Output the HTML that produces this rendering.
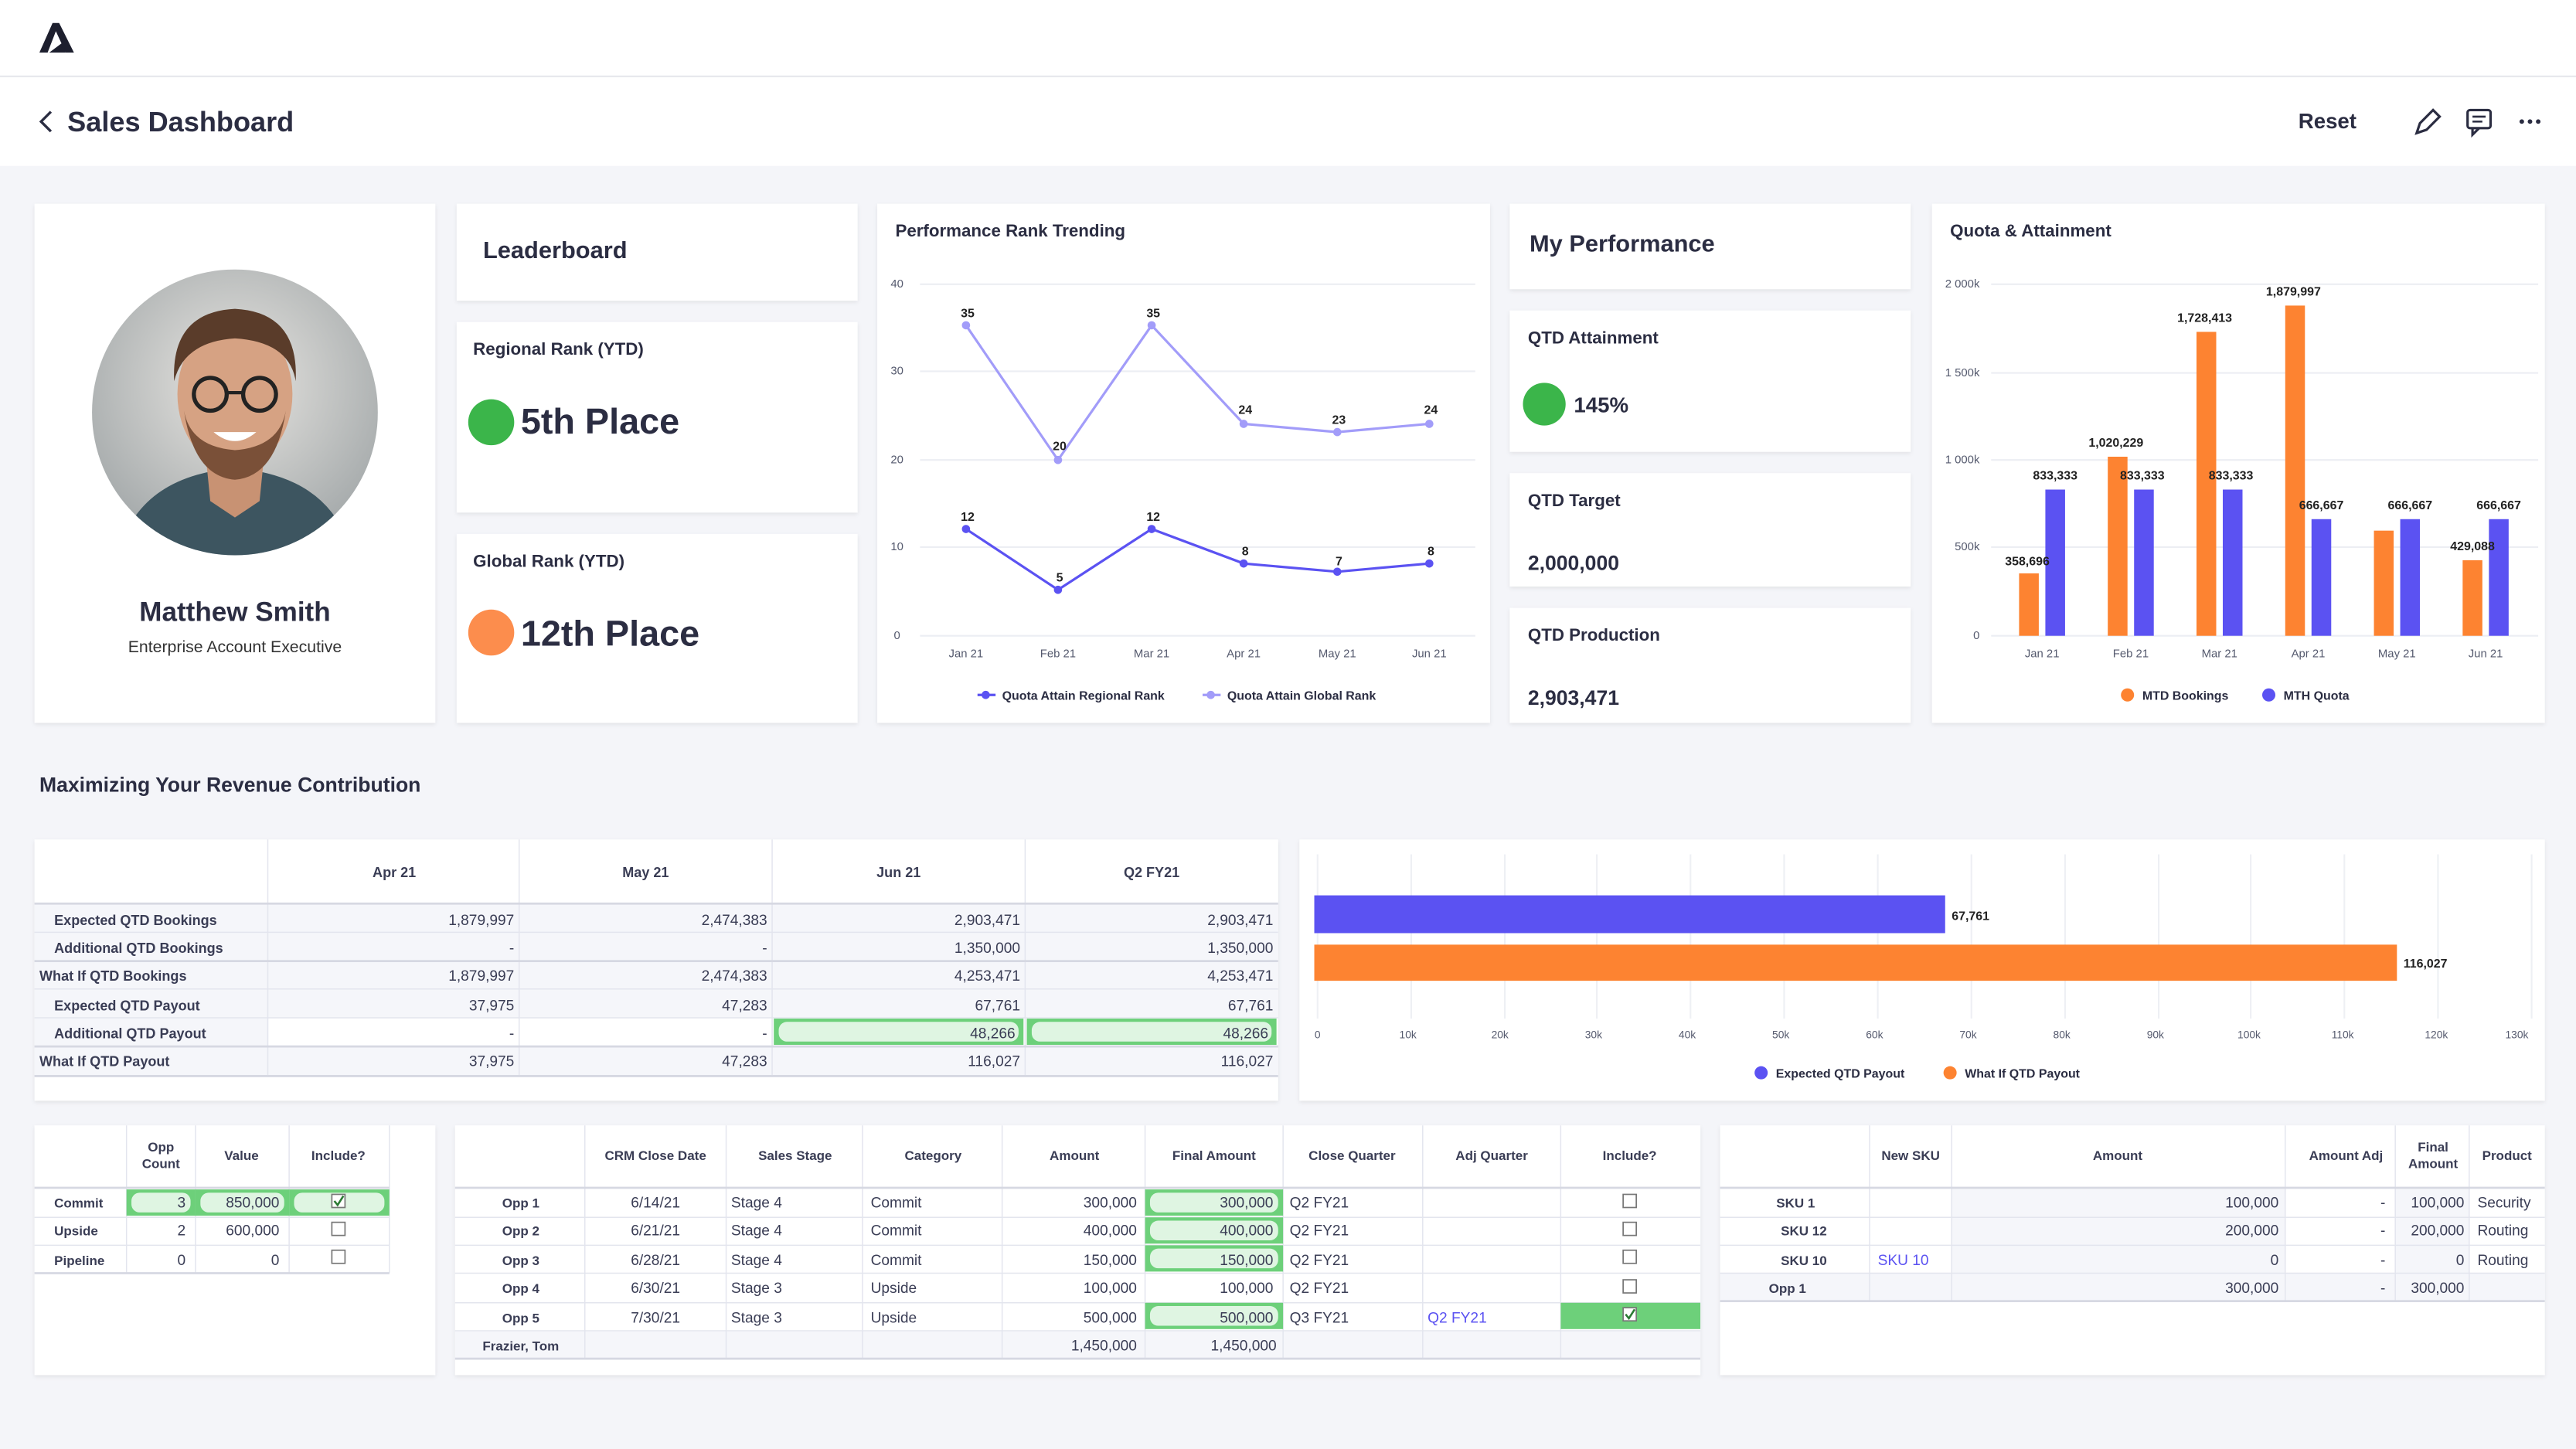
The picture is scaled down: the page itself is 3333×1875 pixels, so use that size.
<!DOCTYPE html>
<html><head><meta charset="utf-8"><style>
html,body{margin:0;padding:0;background:#f4f5f9;}
svg{display:block;font-family:"Liberation Sans",sans-serif;}
.t{fill:#2b2d42;font-weight:bold;}
.s{font-size:7px;fill:#555a6e;}
.h{font-size:8.5px;fill:#3a3d55;font-weight:bold;}
.c{font-size:9px;fill:#3a3d55;}
.cb{font-size:9px;fill:#2b2d42;font-weight:bold;}
.v{font-size:7.5px;font-weight:bold;fill:#222;}
</style></head><body>
<svg width="3333" height="1875" viewBox="0 0 1568 882" preserveAspectRatio="none" xmlns="http://www.w3.org/2000/svg">
<defs>
<filter id="sh" x="-5%" y="-5%" width="110%" height="115%"><feDropShadow dx="0" dy="1" stdDeviation="1.2" flood-color="#000" flood-opacity="0.08"/></filter>
<clipPath id="av"><circle cx="143" cy="251" r="87"/></clipPath>
<radialGradient id="bg" cx="0.5" cy="0.4" r="0.7"><stop offset="0" stop-color="#e8e6e2"/><stop offset="1" stop-color="#9aa0a2"/></radialGradient>
</defs>
<rect width="1568" height="882" fill="#f4f5f9"/>
<!-- header -->
<rect width="1568" height="101" fill="#fff"/>
<line x1="0" y1="46.5" x2="1568" y2="46.5" stroke="#e6e7ec"/>
<path d="M24 32 L32 14 L36 14 L45 32 L40 32 L34 19 L29 32 Z" fill="#1d1f2e"/>
<path d="M30 32 L38 26 L40 32 Z" fill="#1d1f2e"/>
<path d="M31 68 L25 74 L31 80" fill="none" stroke="#2b2d42" stroke-width="1.6"/>
<text x="41" y="80" font-size="17" class="t" style="font-weight:600">Sales Dashboard</text>
<text x="1399" y="78" font-size="13" fill="#2b2d42" style="font-weight:600">Reset</text>
<path d="M1471 81 L1473 75 L1481 67 L1485 71 L1477 79 Z" fill="none" stroke="#2b2d42" stroke-width="1.5"/>
<rect x="1502" y="67" width="14" height="11" rx="1.5" fill="none" stroke="#2b2d42" stroke-width="1.5"/>
<path d="M1505 78 L1505 82 L1509 78" fill="none" stroke="#2b2d42" stroke-width="1.5"/>
<line x1="1505" y1="71" x2="1513" y2="71" stroke="#2b2d42" stroke-width="1.2"/><line x1="1505" y1="74" x2="1511" y2="74" stroke="#2b2d42" stroke-width="1.2"/>
<circle cx="1535" cy="74" r="1.4" fill="#2b2d42"/><circle cx="1540" cy="74" r="1.4" fill="#2b2d42"/><circle cx="1545" cy="74" r="1.4" fill="#2b2d42"/>

<!-- cards -->
<g fill="#fff" filter="url(#sh)">
<rect x="21" y="124" width="244" height="316"/>
<rect x="278" y="124" width="244" height="59"/>
<rect x="278" y="196" width="244" height="116"/>
<rect x="278" y="325" width="244" height="115"/>
<rect x="534" y="124" width="373" height="316"/>
<rect x="919" y="124" width="244" height="52"/>
<rect x="919" y="189" width="244" height="86"/>
<rect x="919" y="288" width="244" height="69"/>
<rect x="919" y="370" width="244" height="70"/>
<rect x="1176" y="124" width="373" height="316"/>
<rect x="21" y="511" width="757" height="159"/>
<rect x="791" y="511" width="758" height="159"/>
<rect x="21" y="685" width="244" height="152"/>
<rect x="277" y="685" width="758" height="152"/>
<rect x="1047" y="685" width="502" height="152"/>
</g>

<!-- avatar -->
<g clip-path="url(#av)">
<rect x="56" y="164" width="174" height="174" fill="url(#bg)"/>
<path d="M70 345 Q80 290 143 285 Q206 290 216 345 Z" fill="#3d5560"/>
<path d="M125 275 L161 275 L158 305 L143 315 L128 305 Z" fill="#c89273"/>
<ellipse cx="143" cy="240" rx="35" ry="45" fill="#d6a283"/>
<path d="M106 232 Q104 190 143 188 Q182 190 180 232 Q176 208 143 206 Q112 208 106 232 Z" fill="#5a3c2a"/>
<path d="M112 250 Q118 290 143 292 Q168 290 174 250 Q170 272 143 274 Q116 272 112 250 Z" fill="#7a5038"/>
<circle cx="128" cy="240" r="10" fill="none" stroke="#222" stroke-width="2.5"/>
<circle cx="158" cy="240" r="10" fill="none" stroke="#222" stroke-width="2.5"/>
<line x1="138" y1="239" x2="148" y2="239" stroke="#222" stroke-width="2"/>
<path d="M130 263 Q143 274 156 263 Z" fill="#fff"/>
</g>
<text x="143" y="378" font-size="16.5" text-anchor="middle" fill="#2b2d42" style="font-weight:600">Matthew Smith</text>
<text x="143" y="397" font-size="10" text-anchor="middle" fill="#333">Enterprise Account Executive</text>

<text x="294" y="157" font-size="14.5" fill="#2b2d42" style="font-weight:600">Leaderboard</text>
<text x="288" y="216" font-size="10.5" class="t">Regional Rank (YTD)</text>
<circle cx="299" cy="257" r="14" fill="#3bb54a"/>
<text x="317" y="264" font-size="22" class="t">5th Place</text>
<text x="288" y="345" font-size="10.5" class="t">Global Rank (YTD)</text>
<circle cx="299" cy="385" r="14" fill="#fc8d4d"/>
<text x="317" y="393" font-size="22" class="t">12th Place</text>

<!-- perf rank trending -->
<text x="545" y="144" font-size="10.5" class="t">Performance Rank Trending</text>
<g stroke="#eceef3" stroke-width="1"><line x1="560" y1="173" x2="898" y2="173"/><line x1="560" y1="226" x2="898" y2="226"/><line x1="560" y1="280" x2="898" y2="280"/><line x1="560" y1="333" x2="898" y2="333"/><line x1="560" y1="387" x2="898" y2="387"/></g>
<g class="s" text-anchor="middle"><text x="546" y="175">40</text><text x="546" y="228">30</text><text x="546" y="282">20</text><text x="546" y="335">10</text><text x="546" y="389">0</text>
<text x="588" y="400">Jan 21</text><text x="644" y="400">Feb 21</text><text x="701" y="400">Mar 21</text><text x="757" y="400">Apr 21</text><text x="814" y="400">May 21</text><text x="870" y="400">Jun 21</text></g>
<polyline points="588,198 644,280 701,198 757,258 814,263 870,258" fill="none" stroke="#a29cf9" stroke-width="1.5"/>
<g fill="#a29cf9"><circle cx="588" cy="198" r="2.5"/><circle cx="644" cy="280" r="2.5"/><circle cx="701" cy="198" r="2.5"/><circle cx="757" cy="258" r="2.5"/><circle cx="814" cy="263" r="2.5"/><circle cx="870" cy="258" r="2.5"/></g>
<polyline points="588,322 644,359 701,322 757,343 814,348 870,343" fill="none" stroke="#5b52f2" stroke-width="1.5"/>
<g fill="#5b52f2"><circle cx="588" cy="322" r="2.5"/><circle cx="644" cy="359" r="2.5"/><circle cx="701" cy="322" r="2.5"/><circle cx="757" cy="343" r="2.5"/><circle cx="814" cy="348" r="2.5"/><circle cx="870" cy="343" r="2.5"/></g>
<g class="v" text-anchor="middle"><text x="589" y="193">35</text><text x="645" y="274">20</text><text x="702" y="193">35</text><text x="758" y="252">24</text><text x="815" y="258">23</text><text x="871" y="252">24</text>
<text x="589" y="317">12</text><text x="645" y="354">5</text><text x="702" y="317">12</text><text x="758" y="338">8</text><text x="815" y="344">7</text><text x="871" y="338">8</text></g>
<line x1="595" y1="423" x2="606" y2="423" stroke="#5b52f2" stroke-width="1.5"/><circle cx="600" cy="423" r="2.5" fill="#5b52f2"/>
<text x="610" y="426" font-size="7.5" class="t">Quota Attain Regional Rank</text>
<line x1="732" y1="423" x2="743" y2="423" stroke="#a29cf9" stroke-width="1.5"/><circle cx="737" cy="423" r="2.5" fill="#a29cf9"/>
<text x="747" y="426" font-size="7.5" class="t">Quota Attain Global Rank</text>

<!-- my performance -->
<text x="931" y="153" font-size="14.5" fill="#2b2d42" style="font-weight:600">My Performance</text>
<text x="930" y="209" font-size="10.5" class="t">QTD Attainment</text>
<circle cx="940" cy="246" r="13" fill="#3bb54a"/>
<text x="958" y="251" font-size="13" class="t">145%</text>
<text x="930" y="308" font-size="10.5" class="t">QTD Target</text>
<text x="930" y="347" font-size="12.5" class="t">2,000,000</text>
<text x="930" y="390" font-size="10.5" class="t">QTD Production</text>
<text x="930" y="429" font-size="12.5" class="t">2,903,471</text>

<!-- quota & attainment -->
<text x="1187" y="144" font-size="10.5" class="t">Quota &amp; Attainment</text>
<g stroke="#eceef3"><line x1="1212" y1="173" x2="1545" y2="173"/><line x1="1212" y1="227" x2="1545" y2="227"/><line x1="1212" y1="280" x2="1545" y2="280"/><line x1="1212" y1="333" x2="1545" y2="333"/><line x1="1212" y1="387" x2="1545" y2="387"/></g>
<g class="s" text-anchor="end"><text x="1205" y="175">2 000k</text><text x="1205" y="229">1 500k</text><text x="1205" y="282">1 000k</text><text x="1205" y="335">500k</text><text x="1205" y="389">0</text></g>
<g class="s" text-anchor="middle"><text x="1243" y="400">Jan 21</text><text x="1297" y="400">Feb 21</text><text x="1351" y="400">Mar 21</text><text x="1405" y="400">Apr 21</text><text x="1459" y="400">May 21</text><text x="1513" y="400">Jun 21</text></g>
<g fill="#fd8331">
<rect x="1229" y="349" width="12" height="38"/><rect x="1283" y="278" width="12" height="109"/><rect x="1337" y="202" width="12" height="185"/><rect x="1391" y="186" width="12" height="201"/><rect x="1445" y="323" width="12" height="64"/><rect x="1499" y="341" width="12" height="46"/></g>
<g fill="#5b52f2">
<rect x="1245" y="298" width="12" height="89"/><rect x="1299" y="298" width="12" height="89"/><rect x="1353" y="298" width="12" height="89"/><rect x="1407" y="316" width="12" height="71"/><rect x="1461" y="316" width="12" height="71"/><rect x="1515" y="316" width="12" height="71"/></g>
<g class="v" text-anchor="middle">
<text x="1234" y="344">358,696</text><text x="1251" y="292">833,333</text><text x="1288" y="272">1,020,229</text><text x="1304" y="292">833,333</text><text x="1342" y="196">1,728,413</text><text x="1358" y="292">833,333</text><text x="1396" y="180">1,879,997</text><text x="1413" y="310">666,667</text><text x="1467" y="310">666,667</text><text x="1505" y="335">429,088</text><text x="1521" y="310">666,667</text></g>
<circle cx="1295" cy="423" r="4" fill="#fd8331"/><text x="1304" y="426" font-size="7.5" class="t">MTD Bookings</text>
<circle cx="1381" cy="423" r="4" fill="#5b52f2"/><text x="1390" y="426" font-size="7.5" class="t">MTH Quota</text>

<text x="24" y="482" font-size="12.5" class="t" style="font-weight:600">Maximizing Your Revenue Contribution</text>

<!-- table 1 -->
<g fill="#f5f6fa"><rect x="163" y="550" width="615" height="70"/><rect x="21" y="550" width="142" height="105"/><rect x="163" y="637" width="615" height="18"/></g>
<g stroke="#e3e5ee" stroke-width="0.7"><line x1="163" y1="511" x2="163" y2="655"/><line x1="316" y1="511" x2="316" y2="655"/><line x1="470" y1="511" x2="470" y2="655"/><line x1="624" y1="511" x2="624" y2="655"/>
<line x1="21" y1="567.5" x2="778" y2="567.5"/><line x1="21" y1="602" x2="778" y2="602"/><line x1="21" y1="619.5" x2="778" y2="619.5"/></g>
<g stroke="#d6d8e2" stroke-width="1.3"><line x1="21" y1="550" x2="778" y2="550"/><line x1="21" y1="585" x2="778" y2="585"/><line x1="21" y1="637" x2="778" y2="637"/><line x1="21" y1="655" x2="778" y2="655"/></g>
<rect x="471" y="620" width="152" height="16" fill="#6dd07a"/><rect x="474" y="622" width="146" height="12" rx="5" fill="#dff5e2"/>
<rect x="625" y="620" width="152" height="16" fill="#6dd07a"/><rect x="628" y="622" width="146" height="12" rx="5" fill="#dff5e2"/>
<g class="h" text-anchor="middle"><text x="240" y="534">Apr 21</text><text x="393" y="534">May 21</text><text x="547" y="534">Jun 21</text><text x="701" y="534">Q2 FY21</text></g>
<g class="h"><text x="33" y="563">Expected QTD Bookings</text><text x="33" y="580">Additional QTD Bookings</text><text x="24" y="597">What If QTD Bookings</text><text x="33" y="615">Expected QTD Payout</text><text x="33" y="632">Additional QTD Payout</text><text x="24" y="649">What If QTD Payout</text></g>
<g class="c" text-anchor="end">
<text x="313" y="563">1,879,997</text><text x="467" y="563">2,474,383</text><text x="621" y="563">2,903,471</text><text x="775" y="563">2,903,471</text>
<text x="313" y="580">-</text><text x="467" y="580">-</text><text x="621" y="580">1,350,000</text><text x="775" y="580">1,350,000</text>
<text x="313" y="597">1,879,997</text><text x="467" y="597">2,474,383</text><text x="621" y="597">4,253,471</text><text x="775" y="597">4,253,471</text>
<text x="313" y="615">37,975</text><text x="467" y="615">47,283</text><text x="621" y="615">67,761</text><text x="775" y="615">67,761</text>
<text x="313" y="632">-</text><text x="467" y="632">-</text><text x="618" y="632">48,266</text><text x="772" y="632">48,266</text>
<text x="313" y="649">37,975</text><text x="467" y="649">47,283</text><text x="621" y="649">116,027</text><text x="775" y="649">116,027</text></g>

<!-- horizontal bar chart -->
<g stroke="#eef0f4"><line x1="802" y1="520" x2="802" y2="620"/><line x1="859" y1="520" x2="859" y2="620"/><line x1="916" y1="520" x2="916" y2="620"/><line x1="972" y1="520" x2="972" y2="620"/><line x1="1029" y1="520" x2="1029" y2="620"/><line x1="1086" y1="520" x2="1086" y2="620"/><line x1="1143" y1="520" x2="1143" y2="620"/><line x1="1200" y1="520" x2="1200" y2="620"/><line x1="1257" y1="520" x2="1257" y2="620"/><line x1="1314" y1="520" x2="1314" y2="620"/><line x1="1370" y1="520" x2="1370" y2="620"/><line x1="1427" y1="520" x2="1427" y2="620"/><line x1="1484" y1="520" x2="1484" y2="620"/><line x1="1541" y1="520" x2="1541" y2="620"/></g>
<rect x="800" y="545" width="384" height="23" fill="#5b52f2"/>
<rect x="800" y="575" width="659" height="22" fill="#fd8331"/>
<text x="1188" y="560" class="v">67,761</text><text x="1463" y="589" class="v">116,027</text>
<g class="s" text-anchor="middle" style="font-size:6.5px"><text x="802" y="632">0</text><text x="857" y="632">10k</text><text x="913" y="632">20k</text><text x="970" y="632">30k</text><text x="1027" y="632">40k</text><text x="1084" y="632">50k</text><text x="1141" y="632">60k</text><text x="1198" y="632">70k</text><text x="1255" y="632">80k</text><text x="1312" y="632">90k</text><text x="1369" y="632">100k</text><text x="1426" y="632">110k</text><text x="1483" y="632">120k</text><text x="1532" y="632">130k</text></g>
<circle cx="1072" cy="653" r="4" fill="#5b52f2"/><text x="1081" y="656" font-size="7.5" class="t">Expected QTD Payout</text>
<circle cx="1187" cy="653" r="4" fill="#fd8331"/><text x="1196" y="656" font-size="7.5" class="t">What If QTD Payout</text>

<!-- table A -->
<g stroke="#e3e5ee" stroke-width="0.7"><line x1="77" y1="685" x2="77" y2="775"/><line x1="119" y1="685" x2="119" y2="775"/><line x1="176" y1="685" x2="176" y2="775"/><line x1="237" y1="685" x2="237" y2="775"/><line x1="21" y1="741" x2="237" y2="741"/><line x1="21" y1="758" x2="237" y2="758"/></g>
<g stroke="#d6d8e2" stroke-width="1.3"><line x1="21" y1="723" x2="237" y2="723"/><line x1="21" y1="775" x2="237" y2="775"/></g>
<g fill="#6dd07a"><rect x="77" y="724" width="42" height="16"/><rect x="119" y="724" width="57" height="16"/><rect x="176" y="724" width="61" height="16"/></g>
<g fill="#dff5e2"><rect x="80" y="726" width="36" height="12" rx="5"/><rect x="122" y="726" width="51" height="12" rx="5"/><rect x="179" y="726" width="55" height="12" rx="5"/></g>
<g class="h" text-anchor="middle" style="font-size:8px"><text x="98" y="701">Opp</text><text x="98" y="711">Count</text><text x="147" y="706">Value</text><text x="206" y="706">Include?</text></g>
<g class="h" style="font-size:8px"><text x="33" y="735">Commit</text><text x="33" y="752">Upside</text><text x="33" y="770">Pipeline</text></g>
<g class="c" text-anchor="end"><text x="113" y="735">3</text><text x="170" y="735">850,000</text><text x="113" y="752">2</text><text x="170" y="752">600,000</text><text x="113" y="770">0</text><text x="170" y="770">0</text></g>
<g fill="#fff" stroke="#777" stroke-width="0.8"><rect x="202" y="727" width="8" height="8"/><rect x="202" y="744" width="8" height="8"/><rect x="202" y="761" width="8" height="8"/></g>
<path d="M203.5 731 L205.5 733.5 L209 728" fill="none" stroke="#2a7a33" stroke-width="1.2"/>

<!-- table B -->
<rect x="277" y="810" width="758" height="17" fill="#f5f6fa"/>
<g stroke="#e3e5ee" stroke-width="0.7"><line x1="356" y1="685" x2="356" y2="827"/><line x1="442" y1="685" x2="442" y2="827"/><line x1="525" y1="685" x2="525" y2="827"/><line x1="610" y1="685" x2="610" y2="827"/><line x1="697" y1="685" x2="697" y2="827"/><line x1="781" y1="685" x2="781" y2="827"/><line x1="866" y1="685" x2="866" y2="827"/><line x1="950" y1="685" x2="950" y2="827"/>
<line x1="277" y1="741" x2="1035" y2="741"/><line x1="277" y1="758" x2="1035" y2="758"/><line x1="277" y1="775" x2="1035" y2="775"/><line x1="277" y1="793" x2="1035" y2="793"/><line x1="277" y1="810" x2="1035" y2="810"/></g>
<g stroke="#d6d8e2" stroke-width="1.3"><line x1="277" y1="723" x2="1035" y2="723"/><line x1="277" y1="827" x2="1035" y2="827"/></g>
<g fill="#6dd07a"><rect x="697" y="724" width="84" height="16"/><rect x="697" y="741" width="84" height="16"/><rect x="697" y="758" width="84" height="16"/><rect x="697" y="793" width="84" height="16"/><rect x="950" y="793" width="85" height="16"/></g>
<g fill="#dff5e2"><rect x="700" y="726" width="78" height="12" rx="5"/><rect x="700" y="743" width="78" height="12" rx="5"/><rect x="700" y="760" width="78" height="12" rx="5"/><rect x="700" y="795" width="78" height="12" rx="5"/></g>
<g class="h" text-anchor="middle" style="font-size:8px"><text x="399" y="706">CRM Close Date</text><text x="484" y="706">Sales Stage</text><text x="568" y="706">Category</text><text x="654" y="706">Amount</text><text x="739" y="706">Final Amount</text><text x="823" y="706">Close Quarter</text><text x="908" y="706">Adj Quarter</text><text x="992" y="706">Include?</text></g>
<g class="h" text-anchor="middle" style="font-size:8px"><text x="317" y="735">Opp 1</text><text x="317" y="752">Opp 2</text><text x="317" y="770">Opp 3</text><text x="317" y="787">Opp 4</text><text x="317" y="805">Opp 5</text><text x="317" y="822">Frazier, Tom</text></g>
<g class="c" text-anchor="middle"><text x="399" y="735">6/14/21</text><text x="399" y="752">6/21/21</text><text x="399" y="770">6/28/21</text><text x="399" y="787">6/30/21</text><text x="399" y="805">7/30/21</text></g>
<g class="c"><text x="445" y="735">Stage 4</text><text x="445" y="752">Stage 4</text><text x="445" y="770">Stage 4</text><text x="445" y="787">Stage 3</text><text x="445" y="805">Stage 3</text>
<text x="530" y="735">Commit</text><text x="530" y="752">Commit</text><text x="530" y="770">Commit</text><text x="530" y="787">Upside</text><text x="530" y="805">Upside</text>
<text x="785" y="735">Q2 FY21</text><text x="785" y="752">Q2 FY21</text><text x="785" y="770">Q2 FY21</text><text x="785" y="787">Q2 FY21</text><text x="785" y="805">Q3 FY21</text>
<text x="869" y="805" fill="#5b52f2" style="fill:#5b52f2">Q2 FY21</text></g>
<g class="c" text-anchor="end"><text x="692" y="735">300,000</text><text x="692" y="752">400,000</text><text x="692" y="770">150,000</text><text x="692" y="787">100,000</text><text x="692" y="805">500,000</text><text x="692" y="822">1,450,000</text>
<text x="775" y="735">300,000</text><text x="775" y="752">400,000</text><text x="775" y="770">150,000</text><text x="775" y="787">100,000</text><text x="775" y="805">500,000</text><text x="777" y="822">1,450,000</text></g>
<g fill="#fff" stroke="#777" stroke-width="0.8"><rect x="988" y="727" width="8" height="8"/><rect x="988" y="744" width="8" height="8"/><rect x="988" y="761" width="8" height="8"/><rect x="988" y="779" width="8" height="8"/><rect x="988" y="796" width="8" height="8"/></g>
<path d="M989.5 800 L991.5 802.5 L995 797" fill="none" stroke="#2a7a33" stroke-width="1.2"/>

<!-- table C -->
<g fill="#f5f6fa"><rect x="1188" y="723" width="203" height="69"/><rect x="1458" y="723" width="45" height="69"/><rect x="1047" y="775" width="502" height="17"/></g>
<g stroke="#e3e5ee" stroke-width="0.7"><line x1="1138" y1="685" x2="1138" y2="792"/><line x1="1188" y1="685" x2="1188" y2="792"/><line x1="1391" y1="685" x2="1391" y2="792"/><line x1="1458" y1="685" x2="1458" y2="792"/><line x1="1503" y1="685" x2="1503" y2="792"/>
<line x1="1047" y1="741" x2="1549" y2="741"/><line x1="1047" y1="758" x2="1549" y2="758"/><line x1="1047" y1="775" x2="1549" y2="775"/></g>
<g stroke="#d6d8e2" stroke-width="1.3"><line x1="1047" y1="723" x2="1549" y2="723"/><line x1="1047" y1="792" x2="1549" y2="792"/></g>
<g class="h" text-anchor="middle" style="font-size:8px"><text x="1163" y="706">New SKU</text><text x="1289" y="706">Amount</text><text x="1428" y="706">Amount Adj</text><text x="1481" y="701">Final</text><text x="1481" y="711">Amount</text><text x="1526" y="706">Product</text></g>
<g class="h" text-anchor="middle" style="font-size:8px"><text x="1093" y="735">SKU 1</text><text x="1098" y="752">SKU 12</text><text x="1098" y="770">SKU 10</text><text x="1088" y="787">Opp 1</text></g>
<text x="1143" y="770" font-size="9" fill="#5b52f2">SKU 10</text>
<g class="c" text-anchor="end"><text x="1387" y="735">100,000</text><text x="1387" y="752">200,000</text><text x="1387" y="770">0</text><text x="1387" y="787">300,000</text>
<text x="1452" y="735">-</text><text x="1452" y="752">-</text><text x="1452" y="770">-</text><text x="1452" y="787">-</text>
<text x="1500" y="735">100,000</text><text x="1500" y="752">200,000</text><text x="1500" y="770">0</text><text x="1500" y="787">300,000</text></g>
<g class="c"><text x="1508" y="735">Security</text><text x="1508" y="752">Routing</text><text x="1508" y="770">Routing</text></g>
</svg>
</body></html>
